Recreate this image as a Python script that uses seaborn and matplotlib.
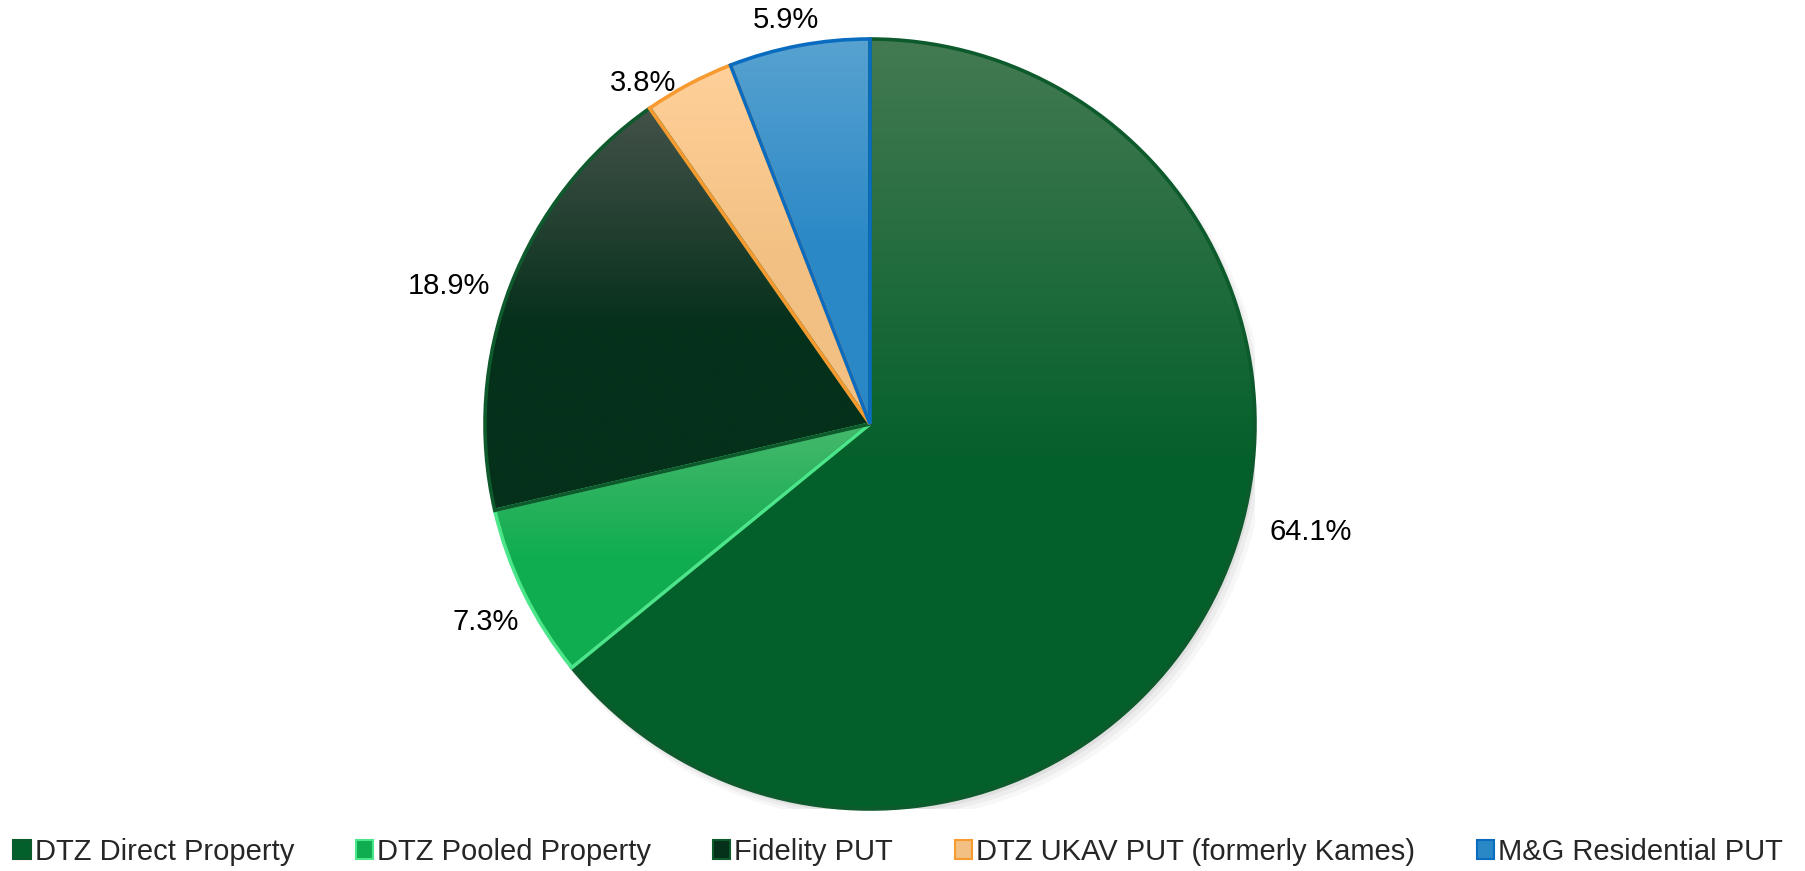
import matplotlib
matplotlib.use("Agg")

import numpy as np
import matplotlib.pyplot as plt
import matplotlib.colors as mcolors
from matplotlib.patches import Patch, Circle
import seaborn as sns

# data
labels = [
    "DTZ Direct Property",
    "DTZ Pooled Property",
    "Fidelity PUT",
    "DTZ UKAV PUT (formerly Kames)",
    "M&G Residential PUT",
]
shares = [64.1, 7.3, 18.9, 3.8, 5.9]
pct_labels = ["64.1%", "7.3%", "18.9%", "3.8%", "5.9%"]

# colours: base fill, lighter top of gradient, outline
base_colors = ["#04602a", "#10ad50", "#05301a", "#f2c082", "#2a88c6"]
top_colors = ["#447a52", "#46b86c", "#44524a", "#ffd09a", "#58a2d0"]
edge_colors = ["#0d5a2c", "#4be58a", "#0e5a2c", "#f79a30", "#0a6cc0"]

# label spots (data units, pie radius = 1)
label_pos = [(1.145, -0.281), (-0.997, -0.514), (-1.094, 0.358),
             (-0.590, 0.886), (-0.218, 1.049)]

sns.set_theme(style="white")
plt.rcParams["font.family"] = ["Liberation Sans", "DejaVu Sans"]

fig = plt.figure(figsize=(18.06, 8.71), dpi=100)
ax = fig.add_axes([485 / 1806, 62 / 871, 770 / 1806, 770 / 871])

# soft shadow
for k, a in enumerate([0.05, 0.04, 0.03]):
    ax.add_patch(Circle((0.008 + k * 0.006, -0.012 - k * 0.006), 1.0 + k * 0.004,
                        facecolor="black", alpha=a, edgecolor="none", zorder=0))

wedges, _ = ax.pie(shares, startangle=90, counterclock=False, radius=1,
                   colors=base_colors,
                   wedgeprops=dict(linewidth=2.6, zorder=3))

for w, top, base, ec in zip(wedges, top_colors, base_colors, edge_colors):
    ext = w.get_path().get_extents()
    n = 200
    t = np.linspace(0, 1, n)
    frac = np.clip(t / 0.55, 0, 1)[:, None]
    c0 = np.array(mcolors.to_rgb(top))
    c1 = np.array(mcolors.to_rgb(base))
    img = (c0 * (1 - frac) + c1 * frac)[:, None, :]
    im = ax.imshow(img, extent=(ext.x0, ext.x1, ext.y0, ext.y1), origin="upper",
                   aspect="auto", zorder=2, interpolation="bilinear")
    im.set_clip_path(w)
    w.set_facecolor("none")
    w.set_edgecolor(ec)

for (x, y), txt in zip(label_pos, pct_labels):
    ax.text(x, y, txt, ha="center", va="center", fontsize=21, color="black")

ax.set_xlim(-1, 1)
ax.set_ylim(-1, 1)
ax.axis("off")

handles = [Patch(facecolor=b, edgecolor=e, linewidth=1.5)
           for b, e in zip(base_colors, edge_colors)]
fig.legend(handles, labels, loc="center left", bbox_to_anchor=(13 / 1806, 19 / 871),
           ncol=5, frameon=False, fontsize=21, handlelength=0.6, handleheight=0.6,
           handletextpad=0.15, columnspacing=2.1, borderpad=0, borderaxespad=0)

fig.savefig("out.png", dpi=100)
plt.close(fig)
